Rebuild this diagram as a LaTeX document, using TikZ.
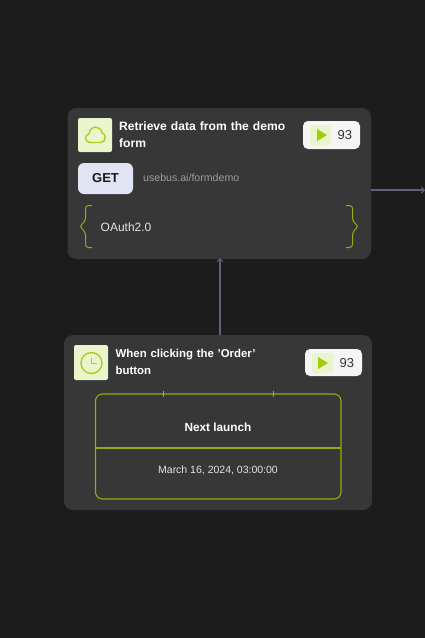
\documentclass[tikz,border=0pt]{standalone}
\usepackage{fontspec}
\setmainfont{Liberation Sans}
\usetikzlibrary{arrows.meta}
\definecolor{bgc}{HTML}{1C1C1C}
\definecolor{cardc}{HTML}{373737}
\definecolor{iconc}{HTML}{EAF5CD}
\definecolor{getc}{HTML}{E0E4F3}
\definecolor{badgec}{HTML}{F5F5F5}
\definecolor{limec}{HTML}{A2CB0E}
\definecolor{linec}{HTML}{ADCE1E}
\definecolor{framec}{HTML}{8FAE12}
\definecolor{wirec}{HTML}{5F6079}
\definecolor{urlc}{HTML}{9C9C9C}
\tikzset{
 x=1pt,y=-1pt,
 box/.style={rectangle,inner sep=0pt,outer sep=0pt,anchor=north west},
 card/.style={box,fill=cardc,rounded corners=9pt},
 icon/.style={box,fill=iconc,rounded corners=2pt,minimum width=34pt,minimum height=34pt},
 badge/.style={box,fill=badgec,rounded corners=5pt,minimum width=57pt,minimum height=28pt},
 playbox/.style={box,fill=iconc,rounded corners=2pt,minimum width=21pt,minimum height=20pt},
 title/.style={anchor=west,inner sep=0pt,text=white,font=\fontsize{12.1}{17}\selectfont\bfseries,align=left},
 body/.style={inner sep=0pt,text=white!90!black,font=\fontsize{10.5}{12}\selectfont},
 wire/.style={draw=wirec,line width=1.2pt,-{Straight Barb[length=3pt,width=6pt,line width=.9pt]}},
 brace/.style={draw=framec,line width=1pt,rounded corners=3pt},
 frameline/.style={draw=framec,line width=1.1pt},
 tick/.style={draw=urlc,line width=.7pt},
 iconline/.style={draw=linec,line width=1.4pt}
}
\begin{document}
\begin{tikzpicture}
\useasboundingbox (0,0) rectangle (425,638);
\fill[bgc] (0,0) rectangle (425,638);

% first card
\node[card,minimum width=303.5pt,minimum height=151pt] (card1) at (67.5,108) {};
\node[icon] (cloudbox) at (78,118) {};
\draw[iconline,line join=round] (91,142.5) .. controls (84.5,142.5) and (83.5,135) .. (89,134)
 .. controls (90,125) and (101,125) .. (102,133)
 .. controls (106.5,133) and (106.5,142.5) .. (100.5,142.5) -- cycle;
\node[title,text width=185pt] (title1) at (119,135) {Retrieve data from the demo\\form};
\node[badge] (badge1) at (303,121) {};
\node[playbox] (play1) at (310,125) {};
\fill[limec] (317,129) -- (327,135) -- (317,141) -- cycle;
\node[anchor=west,inner sep=0pt,text=black!80,font=\fontsize{13}{14}\selectfont] (num1) at (337.5,135) {93};
\node[box,fill=getc,rounded corners=6pt,minimum width=55pt,minimum height=31pt,text=black!90,font=\fontsize{13}{15}\selectfont\bfseries] (get) at (78,163) {GET};
\node[anchor=west,inner sep=0pt,text=urlc,font=\fontsize{10.6}{12}\selectfont] (url) at (143,178) {usebus.ai/formdemo};
\node[anchor=west,inner sep=0pt,text=white!90!black,font=\fontsize{12}{14}\selectfont] (auth) at (100.5,227) {OAuth2.0};
\draw[brace] (92,205.5) -- (85.5,205.5) -- (85.5,221) -- (79.5,226.5) -- (85.5,232) -- (85.5,247.5) -- (92,247.5);
\draw[brace] (346,205.5) -- (352.5,205.5) -- (352.5,221) -- (358.5,226.5) -- (352.5,232) -- (352.5,247.5) -- (346,247.5);

% second card
\node[card,minimum width=308pt,minimum height=175pt] (card2) at (64,335) {};
\node[icon,minimum height=35pt] (clockbox) at (74,345) {};
\draw[iconline] (91.5,363) circle (10.5);
\draw[iconline,line width=1.1pt] (91.3,357.5) -- (91.3,363.5) -- (97,363.5);
\node[title,font=\fontsize{11.4}{17}\selectfont\bfseries,text width=185pt] (title2) at (115.5,362) {When clicking the \char"27 Order\char"27\\button};
\node[badge,minimum height=27pt] (badge2) at (305,349) {};
\node[playbox] (play2) at (312,353) {};
\fill[limec] (318,357) -- (328,363) -- (318,369) -- cycle;
\node[anchor=west,inner sep=0pt,text=black!80,font=\fontsize{13}{14}\selectfont] (num2) at (339.5,363) {93};
\node[box,draw=framec,line width=1.1pt,rounded corners=7pt,minimum width=245.5pt,minimum height=105pt] (frame) at (95.5,394) {};
\draw[frameline] (frame.west |- 0,448) coordinate (divl) -- (frame.east |- 0,448) coordinate (divr);
\draw[tick] (163.5,391) -- (163.5,397);
\draw[tick] (273.5,391) -- (273.5,397);
\node[inner sep=0pt,text=white,font=\fontsize{11.8}{14}\selectfont\bfseries] (next) at (218,427) {Next launch};
\node[body] (date) at (218,470) {March 16, 2024, 03:00:00};

% connectors
\coordinate (outend) at (425,190);
\coordinate (upx) at (220,300);
\draw[wire] (card1.east |- outend) -- (outend);
\draw[wire] (card2.north -| upx) -- ([yshift=1pt]card1.south -| upx);
\end{tikzpicture}
\end{document}
